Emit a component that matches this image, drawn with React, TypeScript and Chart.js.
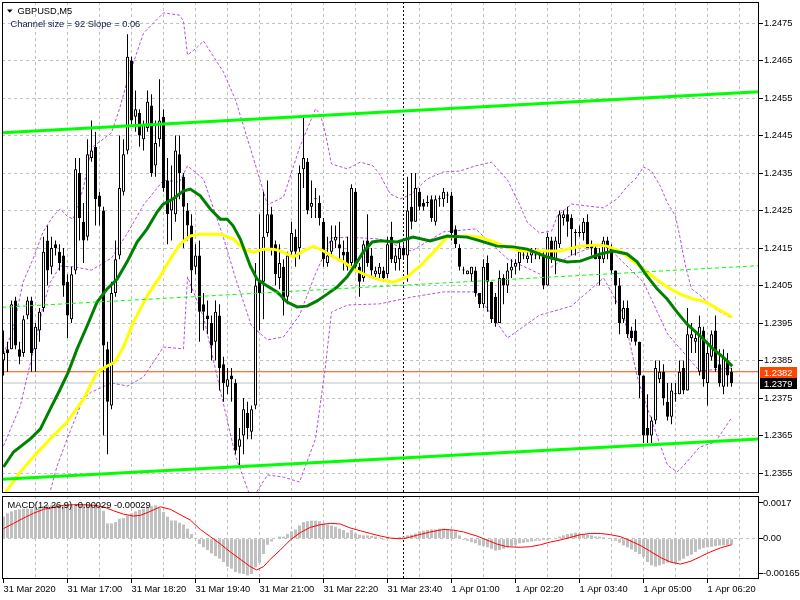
import React, { useEffect, useRef } from "react";
import { Chart, registerables } from "chart.js";

Chart.register(...registerables);

// ---------------- data ----------------
const SYMBOL_TITLE = "GBPUSD,M5";
const CHANNEL_TEXT = "Channel size = 92 Slope = 0.06";
const MACD_TITLE = "MACD(12,26,9) -0.00029 -0.00029";

const TIME_LABELS = [
  "31 Mar 2020", "31 Mar 17:00", "31 Mar 18:20", "31 Mar 19:40", "31 Mar 21:00", "31 Mar 22:20",
  "31 Mar 23:40", "1 Apr 01:00", "1 Apr 02:20", "1 Apr 03:40", "1 Apr 05:00", "1 Apr 06:20",
];
const PRICE_TICKS = [1.2355, 1.2365, 1.2375, 1.2385, 1.2395, 1.2405, 1.2415, 1.2425, 1.2435, 1.2445, 1.2455, 1.2465, 1.2475];
const MACD_TICKS = [-0.00165, 0, 0.0017];
const MACD_TICK_TEXT = ["-0.00165", "0.00", "0.0017"];
const ASK_PRICE = 1.2382;
const BID_PRICE = 1.2379;
const SEPARATOR_BAR = 100;
const BARS_PER_LABEL = 16;
const BARS_PER_GRID = 8;

const OPEN = [
  1.2385, 1.2388, 1.2388, 1.2401, 1.2388, 1.2387, 1.2397, 1.2401, 1.2388, 1.2393,
  1.2399, 1.2417, 1.2410, 1.2416, 1.2414, 1.2413, 1.2406, 1.2396, 1.2409, 1.2435,
  1.2422, 1.2418, 1.2439, 1.2442, 1.2429, 1.2425, 1.2388, 1.2373, 1.2403, 1.2413,
  1.2430, 1.2441, 1.2465, 1.2450, 1.2451, 1.2444, 1.2447, 1.2453, 1.2437, 1.2444,
  1.2450, 1.2433, 1.2425, 1.2424, 1.2440, 1.2434, 1.2425, 1.2421, 1.2410, 1.2413,
  1.2400, 1.2397, 1.2395, 1.2390, 1.2397, 1.2384, 1.2378, 1.2381, 1.2379, 1.2362,
  1.2365, 1.2371, 1.2366, 1.2373, 1.2406, 1.2406, 1.2419, 1.2424, 1.2416, 1.2407,
  1.2410, 1.2402, 1.2414, 1.2418, 1.2415, 1.2436, 1.2438, 1.2426, 1.2428, 1.2427,
  1.2422, 1.2411, 1.2414, 1.2417, 1.2416, 1.2414, 1.2414, 1.2411, 1.2430, 1.2410,
  1.2407, 1.2417, 1.2413, 1.2408, 1.2408, 1.2409, 1.2408, 1.2418, 1.2411, 1.2412,
  1.2415, 1.2413, 1.2426, 1.2422, 1.2430, 1.2427, 1.2427, 1.2428, 1.2422, 1.2428,
  1.2428, 1.2429, 1.2429, 1.2420, 1.2415, 1.2409, 1.2408, 1.2408, 1.2409, 1.2403,
  1.2400, 1.2411, 1.2406, 1.2402, 1.2395, 1.2407, 1.2405, 1.2409, 1.2410, 1.2411,
  1.2413, 1.2412, 1.2413, 1.2413, 1.2413, 1.2413, 1.2405, 1.2417, 1.2412, 1.2416,
  1.2423, 1.2424, 1.2423, 1.2419, 1.2419, 1.2419, 1.2422, 1.2416, 1.2415, 1.2413,
  1.2412, 1.2417, 1.2415, 1.2409, 1.2405, 1.2396, 1.2399, 1.2393, 1.2393, 1.2390,
  1.2381, 1.2367, 1.2365, 1.2369, 1.2380, 1.2382, 1.2374, 1.2370, 1.2376, 1.2376,
  1.2383, 1.2377, 1.2391, 1.2390, 1.2382, 1.2393, 1.2379, 1.2386, 1.2393, 1.2384,
  1.2378, 1.2385, 1.2382,
];
const HIGH = [
  1.2393, 1.2390, 1.2401, 1.2402, 1.2390, 1.2397, 1.2402, 1.2402, 1.2395, 1.2399,
  1.2418, 1.2421, 1.2418, 1.2417, 1.2416, 1.2415, 1.2408, 1.2410, 1.2439, 1.2439,
  1.2427, 1.2444, 1.2449, 1.2446, 1.2430, 1.2426, 1.2390, 1.2406, 1.2417, 1.2445,
  1.2444, 1.2472, 1.2466, 1.2457, 1.2452, 1.2449, 1.2457, 1.2456, 1.2449, 1.2460,
  1.2452, 1.2439, 1.2437, 1.2445, 1.2445, 1.2435, 1.2427, 1.2424, 1.2416, 1.2417,
  1.2403, 1.2401, 1.2397, 1.2401, 1.2400, 1.2386, 1.2383, 1.2383, 1.2380, 1.2367,
  1.2375, 1.2374, 1.2373, 1.2411, 1.2424, 1.2430, 1.2433, 1.2426, 1.2417, 1.2416,
  1.2412, 1.2414, 1.2422, 1.2420, 1.2437, 1.2450, 1.2439, 1.2433, 1.2431, 1.2429,
  1.2423, 1.2418, 1.2421, 1.2421, 1.2422, 1.2417, 1.2418, 1.2432, 1.2431, 1.2411,
  1.2417, 1.2424, 1.2415, 1.2410, 1.2411, 1.2410, 1.2418, 1.2422, 1.2415, 1.2417,
  1.2416, 1.2434, 1.2435, 1.2435, 1.2431, 1.2428, 1.2429, 1.2429, 1.2429, 1.2429,
  1.2431, 1.2430, 1.2430, 1.2421, 1.2416, 1.2410, 1.2409, 1.2410, 1.2410, 1.2403,
  1.2412, 1.2413, 1.2406, 1.2403, 1.2409, 1.2408, 1.2411, 1.2412, 1.2412, 1.2415,
  1.2415, 1.2414, 1.2415, 1.2415, 1.2414, 1.2414, 1.2419, 1.2418, 1.2418, 1.2425,
  1.2425, 1.2426, 1.2424, 1.2420, 1.2421, 1.2423, 1.2424, 1.2417, 1.2416, 1.2415,
  1.2418, 1.2418, 1.2416, 1.2409, 1.2407, 1.2401, 1.2401, 1.2394, 1.2396, 1.2390,
  1.2381, 1.2376, 1.2370, 1.2385, 1.2385, 1.2384, 1.2379, 1.2379, 1.2379, 1.2385,
  1.2385, 1.2399, 1.2395, 1.2393, 1.2397, 1.2394, 1.2389, 1.2393, 1.2397, 1.2388,
  1.2388, 1.2387, 1.2383,
];
const LOW = [
  1.2381, 1.2382, 1.2388, 1.2388, 1.2384, 1.2386, 1.2396, 1.2382, 1.2382, 1.2390,
  1.2398, 1.2405, 1.2408, 1.2413, 1.2409, 1.2402, 1.2391, 1.2395, 1.2408, 1.2417,
  1.2411, 1.2417, 1.2438, 1.2421, 1.2421, 1.2365, 1.2360, 1.2372, 1.2402, 1.2412,
  1.2429, 1.2440, 1.2448, 1.2446, 1.2442, 1.2441, 1.2446, 1.2434, 1.2434, 1.2442,
  1.2430, 1.2416, 1.2417, 1.2422, 1.2428, 1.2415, 1.2417, 1.2403, 1.2408, 1.2390,
  1.2393, 1.2392, 1.2385, 1.2385, 1.2377, 1.2374, 1.2376, 1.2374, 1.2360, 1.2357,
  1.2360, 1.2364, 1.2364, 1.2372, 1.2393, 1.2396, 1.2418, 1.2413, 1.2405, 1.2404,
  1.2397, 1.2400, 1.2413, 1.2410, 1.2412, 1.2431, 1.2424, 1.2423, 1.2423, 1.2421,
  1.2410, 1.2410, 1.2413, 1.2415, 1.2412, 1.2409, 1.2409, 1.2410, 1.2409, 1.2402,
  1.2406, 1.2410, 1.2407, 1.2407, 1.2407, 1.2406, 1.2407, 1.2411, 1.2409, 1.2409,
  1.2412, 1.2406, 1.2420, 1.2422, 1.2425, 1.2425, 1.2426, 1.2422, 1.2421, 1.2426,
  1.2426, 1.2427, 1.2417, 1.2415, 1.2409, 1.2408, 1.2408, 1.2406, 1.2402, 1.2399,
  1.2399, 1.2398, 1.2395, 1.2394, 1.2395, 1.2400, 1.2403, 1.2407, 1.2408, 1.2409,
  1.2412, 1.2411, 1.2411, 1.2412, 1.2412, 1.2404, 1.2405, 1.2411, 1.2408, 1.2415,
  1.2421, 1.2418, 1.2413, 1.2413, 1.2418, 1.2417, 1.2415, 1.2413, 1.2412, 1.2405,
  1.2411, 1.2412, 1.2408, 1.2400, 1.2392, 1.2395, 1.2391, 1.2390, 1.2389, 1.2375,
  1.2363, 1.2363, 1.2363, 1.2368, 1.2379, 1.2373, 1.2369, 1.2368, 1.2374, 1.2376,
  1.2376, 1.2377, 1.2387, 1.2387, 1.2381, 1.2378, 1.2373, 1.2385, 1.2382, 1.2378,
  1.2376, 1.2378, 1.2378,
];
const CLOSE = [
  1.2387, 1.2387, 1.2400, 1.2389, 1.2386, 1.2396, 1.2401, 1.2387, 1.2394, 1.2398,
  1.2414, 1.2409, 1.2415, 1.2415, 1.2411, 1.2405, 1.2397, 1.2408, 1.2436, 1.2423,
  1.2417, 1.2440, 1.2441, 1.2428, 1.2426, 1.2389, 1.2374, 1.2403, 1.2412, 1.2431,
  1.2440, 1.2466, 1.2449, 1.2452, 1.2445, 1.2448, 1.2454, 1.2435, 1.2443, 1.2449,
  1.2431, 1.2424, 1.2428, 1.2441, 1.2435, 1.2426, 1.2421, 1.2409, 1.2413, 1.2398,
  1.2398, 1.2396, 1.2389, 1.2398, 1.2383, 1.2379, 1.2380, 1.2380, 1.2361, 1.2364,
  1.2372, 1.2367, 1.2372, 1.2405, 1.2403, 1.2418, 1.2424, 1.2415, 1.2408, 1.2411,
  1.2401, 1.2413, 1.2419, 1.2414, 1.2435, 1.2439, 1.2425, 1.2427, 1.2428, 1.2423,
  1.2412, 1.2413, 1.2417, 1.2418, 1.2415, 1.2413, 1.2410, 1.2431, 1.2410, 1.2406,
  1.2416, 1.2411, 1.2409, 1.2409, 1.2410, 1.2407, 1.2416, 1.2412, 1.2413, 1.2415,
  1.2413, 1.2425, 1.2422, 1.2431, 1.2426, 1.2426, 1.2427, 1.2423, 1.2428, 1.2428,
  1.2430, 1.2429, 1.2419, 1.2416, 1.2410, 1.2409, 1.2409, 1.2410, 1.2403, 1.2400,
  1.2410, 1.2406, 1.2396, 1.2395, 1.2407, 1.2405, 1.2409, 1.2410, 1.2411, 1.2414,
  1.2413, 1.2413, 1.2414, 1.2413, 1.2413, 1.2405, 1.2418, 1.2412, 1.2417, 1.2424,
  1.2424, 1.2422, 1.2420, 1.2419, 1.2419, 1.2422, 1.2415, 1.2415, 1.2412, 1.2412,
  1.2417, 1.2415, 1.2409, 1.2405, 1.2395, 1.2399, 1.2392, 1.2391, 1.2390, 1.2381,
  1.2365, 1.2365, 1.2369, 1.2383, 1.2382, 1.2375, 1.2370, 1.2377, 1.2376, 1.2382,
  1.2377, 1.2392, 1.2392, 1.2391, 1.2394, 1.2380, 1.2387, 1.2392, 1.2383, 1.2379,
  1.2386, 1.2381, 1.2379,
];

// moving averages (bar index, price)
const MA_GREEN_IDX = [0, 2.5, 6.7, 9.2, 11.7, 14.2, 16.2, 18.4, 20.9, 23.4, 25.9, 28.4, 30.9, 33.4, 35.9, 38.4, 39.9, 42.4, 44.9, 46.7, 49.2, 51.7, 54.2, 55.9, 57.4, 59.2, 61.7, 63.4, 65.9, 68.4, 70.9, 73.4, 75.9, 78.4, 80.9, 83.4, 85.9, 88.4, 89.9, 92.2, 94.2, 98.4, 102.4, 106.7, 110.9, 115.9, 119.2, 123.4, 127.4, 130.9, 135.9, 140.9, 144.2, 149.2, 152.4, 155.9, 158.4, 160.9, 163.4, 165.9, 168.4, 170.9, 174.2, 177.4, 179.9, 182.2];
const MA_GREEN_VAL = [1.23566, 1.23606, 1.23641, 1.23667, 1.23721, 1.23774, 1.23819, 1.23881, 1.23942, 1.24006, 1.24041, 1.24067, 1.24113, 1.24166, 1.24201, 1.24246, 1.24267, 1.24281, 1.24302, 1.24307, 1.24289, 1.24254, 1.24227, 1.24227, 1.24209, 1.24174, 1.24102, 1.24067, 1.24049, 1.24033, 1.24006, 1.23993, 1.23995, 1.24009, 1.24027, 1.24046, 1.24073, 1.24113, 1.24139, 1.24166, 1.24169, 1.24166, 1.24179, 1.24169, 1.24182, 1.24179, 1.24169, 1.24155, 1.24153, 1.24147, 1.24126, 1.24113, 1.24115, 1.24134, 1.24142, 1.24134, 1.24113, 1.24075, 1.24041, 1.24014, 1.23979, 1.23947, 1.23915, 1.23881, 1.23859, 1.23835];
const MA_YELLOW_IDX = [0, 4.2, 7.5, 11.7, 15.9, 20, 23.4, 25.9, 27.9, 30.1, 32.5, 35.9, 39.2, 41.7, 44.2, 46.7, 49.2, 54.2, 57.5, 60, 62.5, 65, 67.5, 70, 72.5, 75, 77.5, 80, 82.5, 85, 87.5, 90, 93.4, 97.5, 100.9, 104.2, 107.5, 110.9, 115.9, 119.2, 122.5, 125.9, 129.2, 139.2, 144.2, 148.4, 150.9, 154.2, 157.4, 160.9, 164.2, 166.7, 169.2, 172.4, 174.9, 177.4, 179.9, 182.2];
const MA_YELLOW_VAL = [1.23491, 1.23553, 1.23593, 1.23641, 1.23686, 1.23747, 1.23819, 1.23835, 1.23846, 1.23889, 1.23953, 1.24022, 1.24075, 1.24121, 1.24161, 1.24182, 1.24187, 1.24187, 1.24174, 1.24147, 1.24139, 1.24147, 1.24147, 1.24139, 1.24126, 1.24142, 1.24155, 1.24142, 1.24126, 1.24113, 1.24094, 1.24081, 1.24067, 1.24059, 1.24073, 1.24102, 1.24139, 1.24179, 1.24182, 1.24179, 1.24166, 1.24153, 1.24142, 1.24142, 1.24155, 1.24158, 1.24155, 1.24142, 1.24115, 1.24086, 1.24059, 1.24041, 1.24027, 1.24014, 1.24009, 1.23995, 1.23979, 1.23966];

// Bollinger bands (bar index, price)
const BB_UP_IDX = [0, 2.4, 4.9, 7.4, 9.9, 12.4, 14.2, 15.9, 17.4, 19.9, 22, 27, 29, 31, 35, 40, 44, 45, 46, 48, 50, 55, 58, 62, 66, 70, 74, 78, 79.2, 80.4, 82, 86, 89.2, 92.4, 94, 96.7, 99.2, 102, 105.9, 110, 114, 118, 122, 126, 129.2, 130.9, 134, 137, 138.4, 142, 150, 153.4, 156, 158, 160, 162, 164.2, 166, 168, 169.2, 170.5, 172, 174, 178, 182];
const BB_UP_VAL = [1.23867, 1.23934, 1.24059, 1.24121, 1.24193, 1.24235, 1.24254, 1.24235, 1.24227, 1.24307, 1.24417, 1.24457, 1.24521, 1.24598, 1.24723, 1.24777, 1.24771, 1.24755, 1.24665, 1.24681, 1.24702, 1.24619, 1.24545, 1.24406, 1.24265, 1.24286, 1.24417, 1.24521, 1.24507, 1.24459, 1.24374, 1.24361, 1.24379, 1.24369, 1.24347, 1.24294, 1.24281, 1.24294, 1.24334, 1.24353, 1.24355, 1.24369, 1.24379, 1.24331, 1.24262, 1.24219, 1.2419, 1.24195, 1.24235, 1.24267, 1.24257, 1.24281, 1.24315, 1.24334, 1.24366, 1.24355, 1.24315, 1.2427, 1.24235, 1.24174, 1.24102, 1.24041, 1.24025, 1.23987, 1.23963];
const BB_MID_IDX = [0, 4.2, 7.4, 9.9, 11.7, 14.2, 18, 22, 27, 31, 35, 40, 44, 46, 50, 55, 58, 62, 66, 70, 74, 78, 82, 86, 94, 102, 110, 118, 126, 134, 142, 150, 160, 166, 174, 182];
const BB_MID_VAL = [1.23622, 1.23729, 1.23873, 1.23995, 1.24059, 1.24102, 1.24099, 1.24091, 1.24123, 1.2419, 1.24265, 1.24331, 1.24326, 1.24369, 1.24334, 1.24177, 1.2407, 1.23942, 1.23905, 1.23913, 1.23971, 1.24081, 1.24177, 1.24179, 1.24174, 1.24142, 1.24193, 1.24201, 1.24121, 1.24081, 1.24131, 1.24163, 1.24059, 1.23921, 1.23822, 1.2383];
const BB_LOW_IDX = [9, 11.7, 13.4, 15.9, 19.9, 22, 27, 31, 35, 40, 45, 46, 50, 55, 58, 62, 66, 70, 74, 78, 80.4, 82, 86, 94, 102, 110, 118, 126, 134, 142, 150, 155, 158.4, 160, 163.9, 166, 168.4, 170, 174, 178, 182];
const BB_LOW_VAL = [1.2343, 1.23502, 1.23569, 1.23641, 1.23747, 1.23766, 1.2379, 1.23782, 1.23806, 1.23886, 1.23881, 1.24073, 1.23966, 1.23734, 1.23595, 1.23478, 1.23545, 1.23539, 1.23526, 1.23641, 1.23827, 1.23979, 1.23998, 1.24001, 1.24019, 1.24033, 1.24033, 1.2391, 1.23971, 1.23995, 1.2407, 1.23974, 1.23809, 1.23753, 1.23633, 1.23571, 1.23553, 1.23569, 1.23619, 1.23633, 1.23697];

// equidistant channel (price at left edge, price at right edge)
const CHANNEL_UPPER = [1.24457, 1.24567];
const CHANNEL_MIDDLE = [1.23992, 1.24103];
const CHANNEL_LOWER = [1.23533, 1.23641];

// MACD
const MACD_HIST = [
  0.00105, 0.00121, 0.0013, 0.00137, 0.0014, 0.00143, 0.00143, 0.00143, 0.00149, 0.00152,
  0.00156, 0.00159, 0.00162, 0.00162, 0.00162, 0.00159, 0.00159, 0.00159, 0.00162, 0.00162,
  0.00162, 0.00162, 0.00159, 0.00159, 0.00149, 0.00133, 0.00073, 0.00073, 0.00079, 0.00095,
  0.00098, 0.00111, 0.00121, 0.0013, 0.00137, 0.00143, 0.00152, 0.00156, 0.00159, 0.00146,
  0.00127, 0.00105, 0.00086, 0.00086, 0.00076, 0.00067, 0.00048, 0.00022, 0.00002, -0.00025,
  -0.00041, -0.00054, -0.0007, -0.00083, -0.00095, -0.00111, -0.00133, -0.00143, -0.00159, -0.00165,
  -0.00168, -0.00175, -0.00168, -0.00137, -0.00114, -0.00073, -0.00029, -0.00013, 0, 0.0001,
  0.0001, 0.00022, 0.00035, 0.00044, 0.00063, 0.00079, 0.00083, 0.00086, 0.00086, 0.00083,
  0.00073, 0.00067, 0.00063, 0.00057, 0.00048, 0.00041, 0.00029, 0.00041, 0.00025, 0.00019,
  0.00016, 0.00016, 0.00013, 0.0001, 0.00006, -0.00006, -0.00003, 0.00002, 0.00004, 0.00008,
  0.0001, 0.00016, 0.00019, 0.00025, 0.00035, 0.00038, 0.00041, 0.00044, 0.00044, 0.00048,
  0.00048, 0.00044, 0.00041, 0.00035, 0.00016, -0.00006, -0.0001, -0.00016, -0.00022, -0.00032,
  -0.00035, -0.00041, -0.00048, -0.00057, -0.00054, -0.00048, -0.00041, -0.00035, -0.00029, -0.00022,
  -0.00019, -0.00016, -0.00013, -0.0001, -0.0001, -0.00006, -0.00006, -0.00003, 0, 0.0001,
  0.00016, 0.00022, 0.00025, 0.00029, 0.00025, 0.00022, 0.00019, 0.00016, 0.0001, 0.0001,
  0.00006, 0.00003, -0.00003, -0.0001, -0.00019, -0.00032, -0.00041, -0.00051, -0.00063, -0.00073,
  -0.00086, -0.00111, -0.00127, -0.00133, -0.00127, -0.00121, -0.00114, -0.00114, -0.00117, -0.00105,
  -0.00095, -0.00083, -0.00076, -0.00063, -0.00051, -0.00044, -0.00041, -0.00038, -0.00035, -0.00032,
  -0.00032, -0.00032, -0.00029,
];
const MACD_SIGNAL_IDX = [0, 2.5, 5, 7.5, 10, 12.5, 15, 17.5, 20, 22.5, 25, 27.5, 30, 32.5, 34.2, 36.7, 39.2, 41.7, 44.2, 46.7, 49.2, 51.7, 54.2, 56.7, 59.2, 61.7, 63.3, 65, 66.7, 69.2, 71.7, 74.2, 76.7, 79.2, 81.7, 84.2, 86.7, 89.2, 91.7, 94.2, 96.7, 98.75, 100, 103.3, 106.7, 110, 112.5, 115, 118.3, 120.8, 123.3, 125.8, 129.2, 131.7, 134.2, 136.7, 139.2, 141.7, 144.2, 146.7, 149.2, 151.7, 154.2, 156.7, 159.2, 161.7, 164.2, 166.7, 169.2, 171.7, 174.2, 176.7, 179.2, 182];
const MACD_SIGNAL_VAL = [0.00048, 0.00073, 0.00098, 0.00121, 0.0014, 0.00149, 0.00159, 0.00162, 0.00162, 0.00159, 0.00152, 0.00133, 0.00117, 0.00108, 0.00111, 0.0013, 0.00152, 0.0014, 0.00114, 0.00089, 0.00044, 0.0001, -0.00025, -0.00063, -0.00098, -0.00133, -0.00149, -0.00133, -0.00098, -0.00054, -0.00006, 0.00029, 0.00054, 0.00067, 0.00073, 0.0007, 0.00051, 0.00038, 0.00025, 0.00013, 0.00003, 0, 0, 0.00016, 0.00032, 0.00044, 0.00041, 0.00032, 0.00013, -0.00006, -0.00025, -0.00038, -0.00041, -0.00038, -0.00029, -0.00016, -0.00006, 0.00006, 0.00019, 0.00025, 0.00025, 0.00019, 0.0001, -0.0001, -0.00032, -0.0006, -0.00089, -0.00111, -0.00121, -0.00108, -0.00086, -0.00063, -0.00044, -0.00029];

// ---------------- layout constants ----------------
const FONT = "'Liberation Sans', Arial, sans-serif";
const FONT_SIZE = 9.3;
const X_MIN = -0.375;
const X_MAX = 188.875;
const Y_MIN = 1.2349667;
const Y_MAX = 1.24806;
const MACD_MIN = -0.001919;
const MACD_MAX = 0.0020333;
const AXIS_W = 41;
const GRID_COLOR = "#c0c0c0";
const CLEAR = "rgba(0,0,0,0)";

const pts = (xs: number[], ys: number[]) => xs.map((x, k) => ({ x, y: ys[k] }));
const edgeLine = (v: number[]) => [{ x: X_MIN, y: v[0] }, { x: X_MAX, y: v[1] }];

function xTickList(from: number) {
  const t: { value: number }[] = [];
  for (let v = from; v <= X_MAX; v += BARS_PER_GRID) t.push({ value: v });
  return t;
}

const framePlugin = {
  id: "frame",
  beforeDatasetsDraw(chart: any) {
    const { ctx, chartArea: a, scales } = chart;
    const x = Math.floor(scales.x.getPixelForValue(SEPARATOR_BAR)) + 0.5;
    ctx.save();
    ctx.strokeStyle = "#000";
    ctx.lineWidth = 1;
    ctx.setLineDash([2, 2]);
    ctx.beginPath();
    ctx.moveTo(x, a.top);
    ctx.lineTo(x, a.bottom);
    ctx.stroke();
    ctx.restore();
  },
  afterDraw(chart: any) {
    const { ctx, chartArea: a } = chart;
    ctx.save();
    ctx.strokeStyle = "#000";
    ctx.lineWidth = 1;
    ctx.setLineDash([]);
    ctx.strokeRect(a.left + 0.5, a.top + 0.5, a.right - a.left - 1, a.bottom - a.top - 1);
    ctx.restore();
  },
};

const mainTextPlugin = {
  id: "mainText",
  afterDraw(chart: any) {
    const { ctx, scales } = chart;
    ctx.save();
    ctx.fillStyle = "#000";
    ctx.beginPath();
    ctx.moveTo(7, 9.5);
    ctx.lineTo(12.5, 9.5);
    ctx.lineTo(9.75, 12.7);
    ctx.closePath();
    ctx.fill();
    ctx.font = `${FONT_SIZE}px ${FONT}`;
    ctx.textBaseline = "alphabetic";
    ctx.textAlign = "left";
    ctx.fillText(SYMBOL_TITLE, 17.5, 14);
    ctx.fillStyle = "#0a1a40";
    ctx.fillText(CHANNEL_TEXT, 10.5, 26.5);
    const boxes = [
      { v: ASK_PRICE, bg: "#ff4500" },
      { v: BID_PRICE, bg: "#000" },
    ];
    boxes.forEach((b) => {
      const y = Math.round(scales.y.getPixelForValue(b.v));
      ctx.fillStyle = b.bg;
      ctx.fillRect(760, y - 5, 37, 11);
      ctx.fillStyle = "#fff";
      ctx.textBaseline = "middle";
      ctx.fillText(b.v.toFixed(4), 764, y + 1);
    });
    ctx.restore();
  },
};

const macdTextPlugin = {
  id: "macdText",
  afterDraw(chart: any) {
    const { ctx } = chart;
    ctx.save();
    ctx.fillStyle = "#000";
    ctx.font = `${FONT_SIZE}px ${FONT}`;
    ctx.textBaseline = "alphabetic";
    ctx.textAlign = "left";
    ctx.fillText(MACD_TITLE, 7.5, 12.5);
    ctx.restore();
  },
};

const lineDs = (data: any[], color: string, width: number, order: number, dash: number[] = []) => ({
  type: "line" as const,
  data,
  borderColor: color,
  borderWidth: width,
  borderDash: dash,
  pointRadius: 0,
  tension: 0,
  fill: false,
  order,
});

function mainConfig(): any {
  const bodyColors = OPEN.map((o, i) => (CLOSE[i] > o ? "#ffffff" : "#000000"));
  return {
    type: "bar",
    data: {
      datasets: [
        lineDs(edgeLine([BID_PRICE, BID_PRICE]), GRID_COLOR, 1, 60),
        lineDs(edgeLine([ASK_PRICE, ASK_PRICE]), "#ff4500", 1, 59),
        lineDs(pts(BB_UP_IDX, BB_UP_VAL), "#b050e0", 1, 50, [3, 2]),
        lineDs(pts(BB_MID_IDX, BB_MID_VAL), "#b050e0", 1, 50, [3, 2]),
        lineDs(pts(BB_LOW_IDX, BB_LOW_VAL), "#b050e0", 1, 50, [3, 2]),
        {
          type: "bar",
          data: OPEN.map((_, i) => ({ x: i, y: [LOW[i], HIGH[i]] })),
          backgroundColor: "#000",
          borderWidth: 0,
          barThickness: 1,
          inflateAmount: 0,
          grouped: false,
          order: 41,
        },
        {
          type: "bar",
          data: OPEN.map((o, i) => ({ x: i, y: [o, CLOSE[i]] })),
          backgroundColor: bodyColors,
          borderColor: "#000",
          borderWidth: 1,
          borderSkipped: false,
          barThickness: 3,
          inflateAmount: 0,
          minBarLength: 1,
          grouped: false,
          order: 40,
        },
        lineDs(pts(MA_YELLOW_IDX, MA_YELLOW_VAL), "#ffff00", 3, 21),
        lineDs(pts(MA_GREEN_IDX, MA_GREEN_VAL), "#008000", 3, 20),
        lineDs(edgeLine(CHANNEL_MIDDLE), "#00ff00", 1, 10, [4, 3]),
        lineDs(edgeLine(CHANNEL_UPPER), "#00ff00", 3, 9),
        lineDs(edgeLine(CHANNEL_LOWER), "#00ff00", 3, 9),
      ],
    },
    options: {
      responsive: false,
      animation: false,
      devicePixelRatio: 1,
      events: [],
      layout: { padding: { left: 2, top: 2, right: 0, bottom: 2 } },
      plugins: { legend: { display: false }, tooltip: { enabled: false }, title: { display: false } },
      scales: {
        x: {
          type: "linear",
          min: X_MIN,
          max: X_MAX,
          offset: false,
          afterBuildTicks: (s: any) => {
            s.ticks = xTickList(BARS_PER_GRID);
          },
          afterFit: (s: any) => {
            s.height = 0;
            s.paddingLeft = 0;
            s.paddingRight = 0;
          },
          ticks: { display: false },
          grid: { color: GRID_COLOR, drawTicks: false, offset: false, lineWidth: 1 },
          border: { display: false, dash: [3, 3] },
        },
        y: {
          type: "linear",
          position: "right",
          min: Y_MIN,
          max: Y_MAX,
          afterBuildTicks: (s: any) => {
            s.ticks = PRICE_TICKS.map((v) => ({ value: v }));
          },
          afterFit: (s: any) => {
            s.width = AXIS_W;
            s.paddingTop = 0;
            s.paddingBottom = 0;
          },
          ticks: {
            color: "#000",
            font: { family: FONT, size: FONT_SIZE },
            padding: 1,
            autoSkip: false,
            callback: (v: any) => Number(v).toFixed(4),
          },
          grid: { color: GRID_COLOR, drawTicks: true, tickLength: 4, tickColor: "#000", lineWidth: 1 },
          border: { display: false, dash: [3, 3] },
        },
      },
    },
    plugins: [framePlugin, mainTextPlugin],
  };
}

function macdConfig(): any {
  return {
    type: "bar",
    data: {
      datasets: [
        {
          type: "bar",
          data: MACD_HIST.map((v, i) => ({ x: i, y: v })),
          backgroundColor: "#c0c0c0",
          borderWidth: 0,
          barThickness: 3,
          inflateAmount: 0,
          grouped: false,
          order: 10,
        },
        lineDs(pts(MACD_SIGNAL_IDX, MACD_SIGNAL_VAL), "#ff0000", 1, 5),
      ],
    },
    options: {
      responsive: false,
      animation: false,
      devicePixelRatio: 1,
      events: [],
      layout: { padding: { left: 2, top: 1, right: 0, bottom: 0 } },
      plugins: { legend: { display: false }, tooltip: { enabled: false }, title: { display: false } },
      scales: {
        x: {
          type: "linear",
          min: X_MIN,
          max: X_MAX,
          offset: false,
          afterBuildTicks: (s: any) => {
            s.ticks = xTickList(0);
          },
          afterFit: (s: any) => {
            s.height = 21;
            s.paddingLeft = 0;
            s.paddingRight = 0;
          },
          ticks: {
            autoSkip: false,
            maxRotation: 0,
            minRotation: 0,
            align: "start",
            padding: 1,
            color: "#000",
            font: { family: FONT, size: FONT_SIZE },
            callback: (v: any) => {
              const n = Math.round(Number(v));
              return n % BARS_PER_LABEL === 0 ? TIME_LABELS[n / BARS_PER_LABEL] || "" : "";
            },
          },
          grid: {
            offset: false,
            drawTicks: true,
            tickLength: 4,
            color: (c: any) => (c.tick && c.tick.value > 0 ? GRID_COLOR : CLEAR),
            tickColor: (c: any) => (c.tick && Math.round(c.tick.value) % BARS_PER_LABEL === 0 ? "#000" : CLEAR),
          },
          border: { display: false, dash: [3, 3] },
        },
        y: {
          type: "linear",
          position: "right",
          min: MACD_MIN,
          max: MACD_MAX,
          afterBuildTicks: (s: any) => {
            s.ticks = MACD_TICKS.map((v) => ({ value: v }));
          },
          afterFit: (s: any) => {
            s.width = AXIS_W;
            s.paddingTop = 0;
            s.paddingBottom = 0;
          },
          ticks: {
            color: "#000",
            font: { family: FONT, size: FONT_SIZE },
            padding: 0,
            autoSkip: false,
            callback: (_v: any, i: number) => MACD_TICK_TEXT[i],
          },
          grid: {
            color: (c: any) => (c.tick && c.tick.value === 0 ? GRID_COLOR : CLEAR),
            drawTicks: true,
            tickLength: 4,
            tickColor: "#000",
          },
          border: { display: false, dash: [3, 3] },
        },
      },
    },
    plugins: [framePlugin, macdTextPlugin],
  };
}

export default function App() {
  const mainRef = useRef<HTMLCanvasElement>(null);
  const macdRef = useRef<HTMLCanvasElement>(null);
  useEffect(() => {
    Chart.defaults.font.family = FONT;
    const main = new Chart(mainRef.current as HTMLCanvasElement, mainConfig());
    const macd = new Chart(macdRef.current as HTMLCanvasElement, macdConfig());
    return () => {
      main.destroy();
      macd.destroy();
    };
  }, []);
  return (
    <div style={{ position: "fixed", left: 0, top: 0, width: 800, height: 600, background: "#fff" }}>
      <canvas
        ref={mainRef}
        width={800}
        height={495}
        style={{ position: "absolute", left: 0, top: 0, width: 800, height: 495 }}
      />
      <canvas
        ref={macdRef}
        width={800}
        height={105}
        style={{ position: "absolute", left: 0, top: 495, width: 800, height: 105 }}
      />
    </div>
  );
}
